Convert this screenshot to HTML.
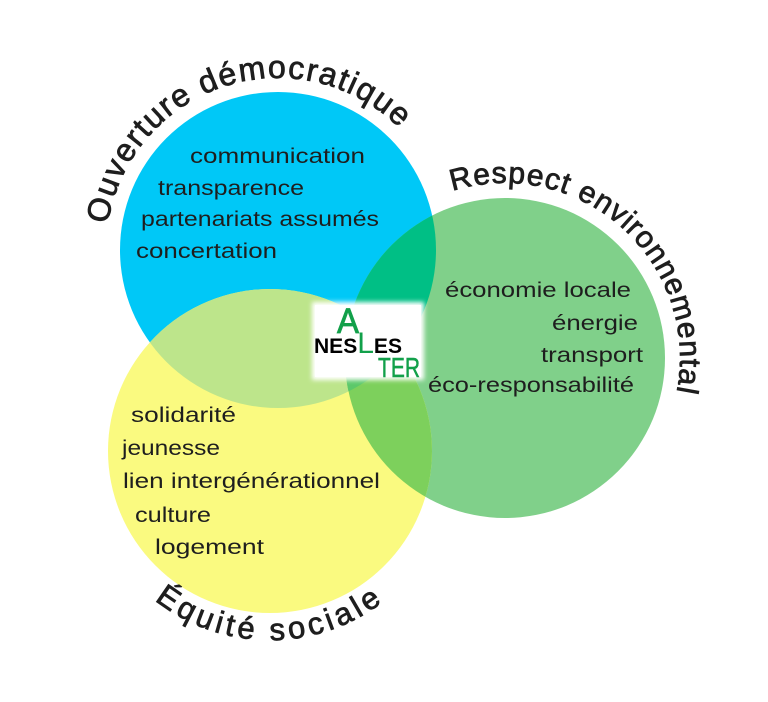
<!DOCTYPE html>
<html><head><meta charset="utf-8"><style>
html,body{margin:0;padding:0;background:#fff;}
svg{display:block;}
text{font-family:"Liberation Sans",sans-serif;fill:#1e1e1e;}
</style></head><body>
<svg width="768" height="702" viewBox="0 0 768 702" xmlns="http://www.w3.org/2000/svg">
<defs>
<clipPath id="cb"><circle cx="278" cy="250" r="158"/></clipPath>
<clipPath id="cg"><circle cx="505" cy="358" r="160"/></clipPath>
<clipPath id="cy"><circle cx="270" cy="451" r="162"/></clipPath>
<filter id="bl" x="-20%" y="-20%" width="140%" height="140%"><feGaussianBlur stdDeviation="2.5"/></filter>
<path id="pO" d="M 114.4 303.2 A 172 172 0 0 1 441.6 196.8"/>
<!-- Respect: r=175 center(505,358), center 312deg, from 222 to 402 -->
<path id="pR" d="M 374.9 240.9 A 175 175 0 0 1 635.1 475.1"/>
<path id="pE" d="M 84.0 454.2 A 186 186 0 0 0 456.0 454.2"/>
</defs>
<circle cx="278" cy="250" r="158" fill="#00c8f7"/>
<circle cx="505" cy="358" r="160" fill="#80d08a"/>
<circle cx="270" cy="451" r="162" fill="#fafa80"/>
<g clip-path="url(#cb)"><circle cx="505" cy="358" r="160" fill="#00bf85"/><circle cx="270" cy="451" r="162" fill="#bde58b"/></g>
<g clip-path="url(#cg)"><circle cx="270" cy="451" r="162" fill="#7dd05c"/></g>
<g clip-path="url(#cb)"><g clip-path="url(#cg)"><circle cx="270" cy="451" r="162" fill="#5cc86a"/></g></g>

<text font-size="32" stroke="#1e1e1e" stroke-width="0.8" letter-spacing="1.6"><textPath href="#pO" startOffset="50%" text-anchor="middle">Ouverture démocratique</textPath></text>
<text font-size="30" stroke="#1e1e1e" stroke-width="0.8" letter-spacing="1"><textPath href="#pR" startOffset="50%" text-anchor="middle">Respect environnemental</textPath></text>
<text font-size="31" stroke="#1e1e1e" stroke-width="0.8" letter-spacing="4"><textPath href="#pE" startOffset="50%" text-anchor="middle">Équité sociale</textPath></text>

<g font-size="21">
<text x="190" y="163" textLength="175" lengthAdjust="spacingAndGlyphs">communication</text>
<text x="158" y="195" textLength="146" lengthAdjust="spacingAndGlyphs">transparence</text>
<text x="141" y="226" textLength="238" lengthAdjust="spacingAndGlyphs">partenariats assumés</text>
<text x="136" y="258" textLength="141" lengthAdjust="spacingAndGlyphs">concertation</text>
<text x="445" y="297" textLength="186" lengthAdjust="spacingAndGlyphs">économie locale</text>
<text x="552" y="330" textLength="86" lengthAdjust="spacingAndGlyphs">énergie</text>
<text x="541" y="362" textLength="102" lengthAdjust="spacingAndGlyphs">transport</text>
<text x="428" y="392" textLength="206" lengthAdjust="spacingAndGlyphs">éco-responsabilité</text>
<text x="131" y="422" textLength="105" lengthAdjust="spacingAndGlyphs">solidarité</text>
<text x="122" y="455" textLength="98" lengthAdjust="spacingAndGlyphs">jeunesse</text>
<text x="123" y="488" textLength="257" lengthAdjust="spacingAndGlyphs">lien intergénérationnel</text>
<text x="135" y="522" textLength="76" lengthAdjust="spacingAndGlyphs">culture</text>
<text x="155" y="554" textLength="109" lengthAdjust="spacingAndGlyphs">logement</text>
</g>

<rect x="312" y="302" width="112" height="78" fill="#fff" filter="url(#bl)"/>
<rect x="315" y="305" width="106" height="72" fill="#fff"/>
<text x="337" y="333" font-size="35" style="fill:#12a04a" stroke="#12a04a" stroke-width="0.8" textLength="22" lengthAdjust="spacingAndGlyphs">A</text>
<text x="314" y="353" font-size="21" font-weight="bold" textLength="88" lengthAdjust="spacingAndGlyphs" style="fill:#000">NES<tspan style="fill:#12a04a" font-weight="normal" font-size="30">L</tspan>ES</text>
<text x="378" y="377" font-size="28" style="fill:#12a04a" stroke="#12a04a" stroke-width="0.5" textLength="42" lengthAdjust="spacingAndGlyphs">TER</text>
</svg>
</body></html>
